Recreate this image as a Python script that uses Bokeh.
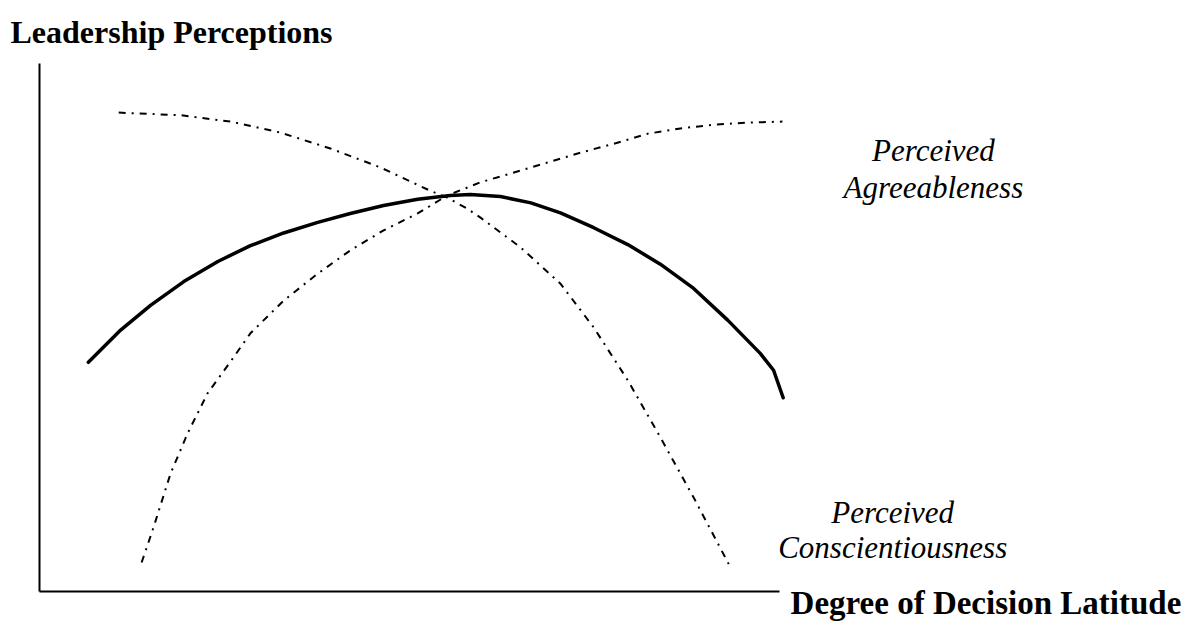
from bokeh.plotting import figure
from bokeh.models import Label
from bokeh.embed import file_html
from bokeh.resources import INLINE

# Conceptual curves (x: degree of decision latitude 0-100, y: leadership perceptions 0-100)
overall_x = [6.6, 10.8, 15.0, 19.5, 24.1, 28.5, 33.0, 37.6, 42.0, 46.5, 51.1, 55.5, 58.2, 62.3,
             66.4, 70.4, 74.9, 79.5, 83.9, 88.4, 93.0, 97.4, 99.2, 100.5]
overall_y = [43.4, 49.3, 54.2, 58.7, 62.5, 65.5, 67.9, 69.9, 71.6, 73.1, 74.3, 75.0, 75.2, 74.8,
             73.6, 71.7, 68.9, 65.7, 62.0, 57.4, 51.4, 45.1, 41.9, 36.7]

agree_x = [13.8, 15.4, 17.7, 20.0, 22.7, 26.2, 28.5, 33.0, 37.6, 42.0, 46.5, 51.1, 55.1, 59.6,
           66.4, 73.1, 77.6, 82.2, 86.6, 91.1, 95.7, 100.4]
agree_y = [5.5, 12.1, 22.3, 29.9, 37.5, 44.3, 48.9, 55.1, 60.2, 64.6, 68.4, 71.6, 75.0, 77.5,
           80.3, 83.1, 84.8, 86.7, 87.7, 88.4, 88.8, 89.0]

consc_x = [10.7, 19.1, 25.8, 32.6, 39.3, 46.1, 52.8, 55.1, 57.8, 59.6, 65.0, 70.4, 74.9, 79.5,
           83.9, 88.4, 93.4]
consc_y = [90.7, 90.2, 89.0, 86.9, 83.9, 80.3, 75.9, 74.6, 72.5, 70.8, 65.2, 58.3, 50.0, 40.0,
           29.2, 17.8, 4.5]

title_text = "Leadership Perceptions"
xlabel_text = "Degree of Decision Latitude"
agree_label = ["Perceived", "Agreeableness"]
consc_label = ["Perceived", "Conscientiousness"]

p = figure(width=1199, height=621, output_backend="svg", toolbar_location=None,
           x_range=(-5.27, 156.76), y_range=(-5.68, 111.93),
           min_border=0)
p.background_fill_color = "white"
p.border_fill_color = "white"
p.outline_line_color = None
p.grid.visible = False

for ax in (p.xaxis, p.yaxis):
    ax.ticker = []
    ax.axis_line_color = "black"
    ax.axis_line_width = 2
    ax.major_tick_line_color = None
    ax.minor_tick_line_color = None
    ax.major_label_text_font_size = "0px"
    ax.major_label_standoff = 0
    ax.bounds = (0, 100)
    ax.fixed_location = 0

p.line(overall_x, overall_y, line_color="black", line_width=3.5, line_cap="round",
       line_join="round")
p.line(agree_x, agree_y, line_color="black", line_width=2, line_dash="7 6 2 6")
p.line(consc_x, consc_y, line_color="black", line_width=2, line_dash="7 6 2 6")

font = "Liberation Serif"
p.add_layout(Label(x=-3.92, y=105.9, text=title_text, text_font=font, text_font_size="32px",
                   text_font_style="bold", text_color="black", text_baseline="alphabetic",
                   text_align="left"))
p.add_layout(Label(x=101.5, y=-2.1, text=xlabel_text, text_font=font, text_font_size="33px",
                   text_font_style="bold", text_color="black", text_baseline="alphabetic",
                   text_align="left"))
for txt, yy in zip(agree_label, [83.5, 76.5]):
    p.add_layout(Label(x=120.8, y=yy, text=txt, text_font=font, text_font_size="31px",
                       text_font_style="italic", text_color="black", text_baseline="alphabetic",
                       text_align="center"))
for txt, yy in zip(consc_label, [15.0, 8.3]):
    p.add_layout(Label(x=115.3, y=yy, text=txt, text_font=font, text_font_size="31px",
                       text_font_style="italic", text_color="black", text_baseline="alphabetic",
                       text_align="center"))

open("out.html", "w").write(file_html(p, INLINE))
